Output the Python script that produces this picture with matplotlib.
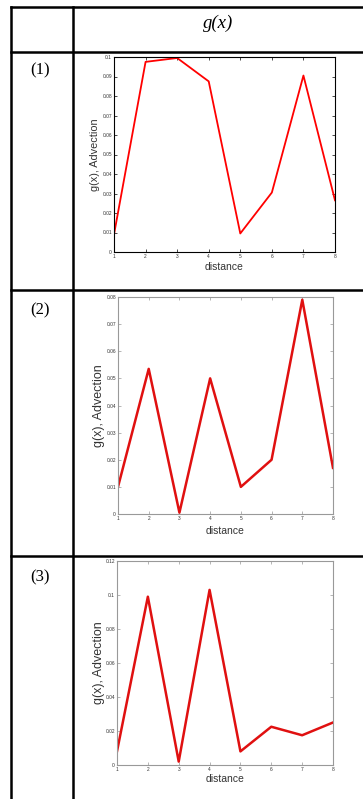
import matplotlib.pyplot as plt
from matplotlib.lines import Line2D

W, H = 363, 799

distance = [1, 2, 3, 4, 5, 6, 7, 8]
g1 = [0.009, 0.0975, 0.0995, 0.0875, 0.0095, 0.0305, 0.0905, 0.0265]
g2 = [0.010, 0.0535, 0.0005, 0.050, 0.010, 0.020, 0.079, 0.017]
g3 = [0.008, 0.099, 0.002, 0.103, 0.008, 0.0225, 0.0175, 0.025]

row_labels = ["(1)", "(2)", "(3)"]
header = "g(x)"

ticks1 = [0, 0.01, 0.02, 0.03, 0.04, 0.05, 0.06, 0.07, 0.08, 0.09, 0.1]
labels1 = ["0", "0.01", "0.02", "0.03", "0.04", "0.05", "0.06", "0.07", "0.08", "0.09", "0.1"]
ticks2 = [0, 0.01, 0.02, 0.03, 0.04, 0.05, 0.06, 0.07, 0.08]
labels2 = ["0", "0.01", "0.02", "0.03", "0.04", "0.05", "0.06", "0.07", "0.08"]
ticks3 = [0, 0.02, 0.04, 0.06, 0.08, 0.1, 0.12]
labels3 = ["0", "0.02", "0.04", "0.06", "0.08", "0.1", "0.12"]


def px(x0, y0, x1, y1):
    # pixel box -> figure fraction rect
    return [x0 / W, 1 - y1 / H, (x1 - x0) / W, (y1 - y0) / H]


fig = plt.figure(figsize=(W / 100, H / 100), dpi=100)
fig.patch.set_facecolor("white")


# table grid
def hline(y, x0=11, x1=W):
    fig.add_artist(Line2D([x0 / W, x1 / W], [1 - y / H, 1 - y / H], color="black", lw=1.8))


def vline(x, y0=7, y1=H):
    fig.add_artist(Line2D([x / W, x / W], [1 - y0 / H, 1 - y1 / H], color="black", lw=1.8))


for y in [7, 52, 290, 556]:
    hline(y)
vline(11)
vline(73)

fig.text(218 / W, 1 - 23 / H, header, fontsize=13.5, family="Liberation Serif",
         style="italic", ha="center", va="center")
for lab, y in zip(row_labels, [70, 310, 577]):
    fig.text(40 / W, 1 - y / H, lab, fontsize=12, family="Liberation Serif",
             ha="center", va="center")

# (values, pixel box, yticks, ylabels, axis colour, line colour, lw, ylabel x, xlabel y, ylabel size)
panels = [
    (g1, (114, 57, 335, 252), ticks1, labels1, "black", "#ff0000", 1.3, 95, 267, 7.8),
    (g2, (118, 297, 333, 514), ticks2, labels2, "#999999", "#e01010", 1.8, 99, 531, 9.0),
    (g3, (117, 561, 333, 765), ticks3, labels3, "#999999", "#e01010", 1.8, 99, 779, 9.0),
]

for vals, box, yt, yl, edge, col, lw, ylx, xly, yls in panels:
    ax = fig.add_axes(px(*box))
    ax.plot(distance, vals, color=col, lw=lw)
    ax.set_xlim(1, 8)
    ax.set_ylim(yt[0], yt[-1])
    ax.set_yticks(yt)
    ax.set_yticklabels(yl, family="Liberation Sans")
    ax.set_xticks(distance)
    ax.set_xticklabels([str(d) for d in distance], family="Liberation Sans")
    ax.tick_params(direction="in", labelsize=3.5, length=2, width=0.5,
                   top=True, right=True, pad=1.5, colors=edge, labelcolor="#333333")
    for s in ax.spines.values():
        s.set_color(edge)
        s.set_linewidth(0.8)
    fig.text(ylx / W, 1 - ((box[1] + box[3]) / 2) / H, "g(x), Advection",
             rotation=90, fontsize=yls, family="Liberation Sans",
             ha="center", va="center", color="#333333")
    fig.text(((box[0] + box[2]) / 2) / W, 1 - xly / H, "distance",
             fontsize=7.5, family="Liberation Sans", ha="center", va="center", color="#333333")

fig.savefig("out.png", dpi=100)
